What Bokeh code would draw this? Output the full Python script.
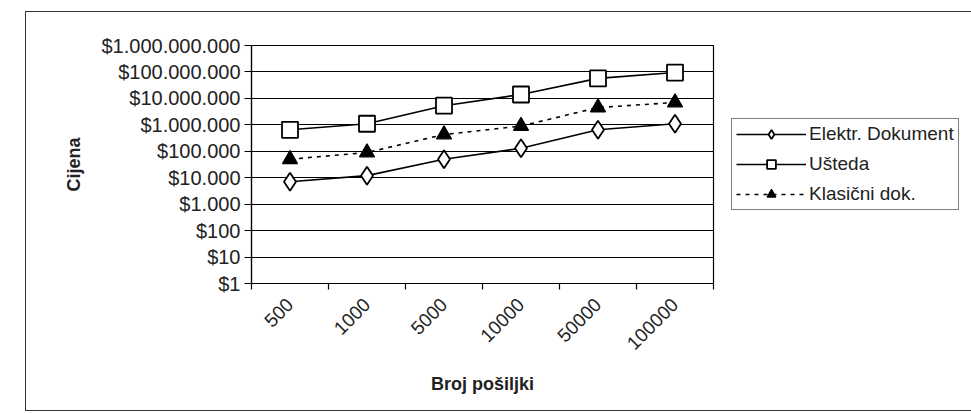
from bokeh.plotting import figure
from bokeh.models import (Range1d, FixedTicker, CustomJSTickFormatter, Legend,
                          LegendItem, ColumnDataSource, Spacer)
from bokeh.layouts import column, row
from bokeh.embed import file_html
from bokeh.resources import INLINE
import math

# ---- data ----
categories = ["500", "1000", "5000", "10000", "50000", "100000"]
elektr = [7000, 12000, 50000, 130000, 650000, 1100000]
usteda = [650000, 1100000, 5300000, 14000000, 57000000, 95000000]
klasicni = [50000, 90000, 430000, 900000, 4500000, 7000000]
y_ticks = [1, 10, 100, 1000, 10000, 100000, 1000000, 10000000, 100000000, 1000000000]

series_names = ["Elektr. Dokument", "Ušteda", "Klasični dok."]

FONT = "Liberation Sans"

xpos = [i + 0.5 for i in range(len(categories))]
src = ColumnDataSource(dict(x=xpos, cat=categories, el=elektr, us=usteda, kl=klasicni))

p = figure(frame_width=460, frame_height=236, output_backend="svg", toolbar_location=None,
           y_axis_type="log", y_range=Range1d(1, 1e9),
           x_range=Range1d(0, len(categories)),
           min_border_left=225, min_border_right=0, min_border_top=33,
           min_border_bottom=129,
           styles={"border": "1px solid #333"})

p.background_fill_color = "white"
p.border_fill_color = "white"
p.outline_line_color = "black"
p.outline_line_width = 1.2

# y axis
yax = p.yaxis[0]
yax.ticker = FixedTicker(ticks=y_ticks, minor_ticks=[])
yax.formatter = CustomJSTickFormatter(code="""
return '$' + Math.round(tick).toString().replace(/\\B(?=(\\d{3})+(?!\\d))/g, '.');
""")
yax.major_tick_out = 7
yax.major_tick_in = 0
yax.minor_tick_line_color = None
yax.major_label_text_font = FONT
yax.major_label_text_font_size = "20px"
yax.major_label_text_color = "#222"
yax.major_label_standoff = 4
yax.axis_line_color = "black"
yax.axis_line_width = 1.2
yax.major_tick_line_color = "black"
yax.axis_label = "Cijena"
yax.axis_label_text_font = FONT
yax.axis_label_text_font_size = "18px"
yax.axis_label_text_font_style = "bold"
yax.axis_label_text_color = "#222"
yax.axis_label_standoff = 14

# x axis
xax = p.xaxis[0]
xax.ticker = FixedTicker(ticks=xpos, minor_ticks=list(range(len(categories) + 1)))
xax.major_label_overrides = {x: c for x, c in zip(xpos, categories)}
xax.major_label_orientation = math.pi / 4
xax.major_tick_out = 0
xax.major_tick_in = 0
xax.minor_tick_out = 6
xax.minor_tick_in = 0
xax.minor_tick_line_color = "black"
xax.minor_tick_line_width = 1.2
xax.axis_line_color = "black"
xax.axis_line_width = 1.2
xax.major_label_text_font = FONT
xax.major_label_text_font_size = "19px"
xax.major_label_text_color = "#222"
xax.major_label_standoff = 12
xax.axis_label = "Broj pošiljki"
xax.axis_label_text_font = FONT
xax.axis_label_text_font_size = "18px"
xax.axis_label_text_font_style = "bold"
xax.axis_label_text_color = "#222"
xax.axis_label_standoff = 15

p.xgrid.visible = False
p.ygrid.grid_line_color = "black"
p.ygrid.grid_line_width = 1.2

# series
l1 = p.line("x", "el", source=src, line_color="black", line_width=1.6)
m1 = p.scatter("x", "el", source=src, marker="diamond", size=18,
               fill_color="white", line_color="black", line_width=1.8)
l2 = p.line("x", "us", source=src, line_color="black", line_width=1.6)
m2 = p.scatter("x", "us", source=src, marker="square", size=16,
               fill_color="white", line_color="black", line_width=1.8)
l3 = p.line("x", "kl", source=src, line_color="black", line_width=1.6,
            line_dash="4 5")
m3 = p.scatter("x", "kl", source=src, marker="triangle", size=15,
               fill_color="black", line_color="black", line_width=1.2)

legend = Legend(items=[
    LegendItem(label=series_names[0], renderers=[l1, m1]),
    LegendItem(label=series_names[1], renderers=[l2, m2]),
    LegendItem(label=series_names[2], renderers=[l3, m3]),
], location="left")
legend.glyph_width = 70
legend.glyph_height = 22
legend.label_height = 22
legend.spacing = 8
legend.padding = 4
legend.margin = 18
legend.label_standoff = 3
legend.label_text_font = FONT
legend.label_text_font_size = "19px"
legend.label_text_color = "#222"
legend.border_line_color = "black"
legend.border_line_width = 1.2
legend.background_fill_color = "white"
legend.background_fill_alpha = 1
p.add_layout(legend, "right")

layout = column(Spacer(height=11), row(Spacer(width=25), p))

open("out.html", "w").write(file_html(layout, INLINE))
